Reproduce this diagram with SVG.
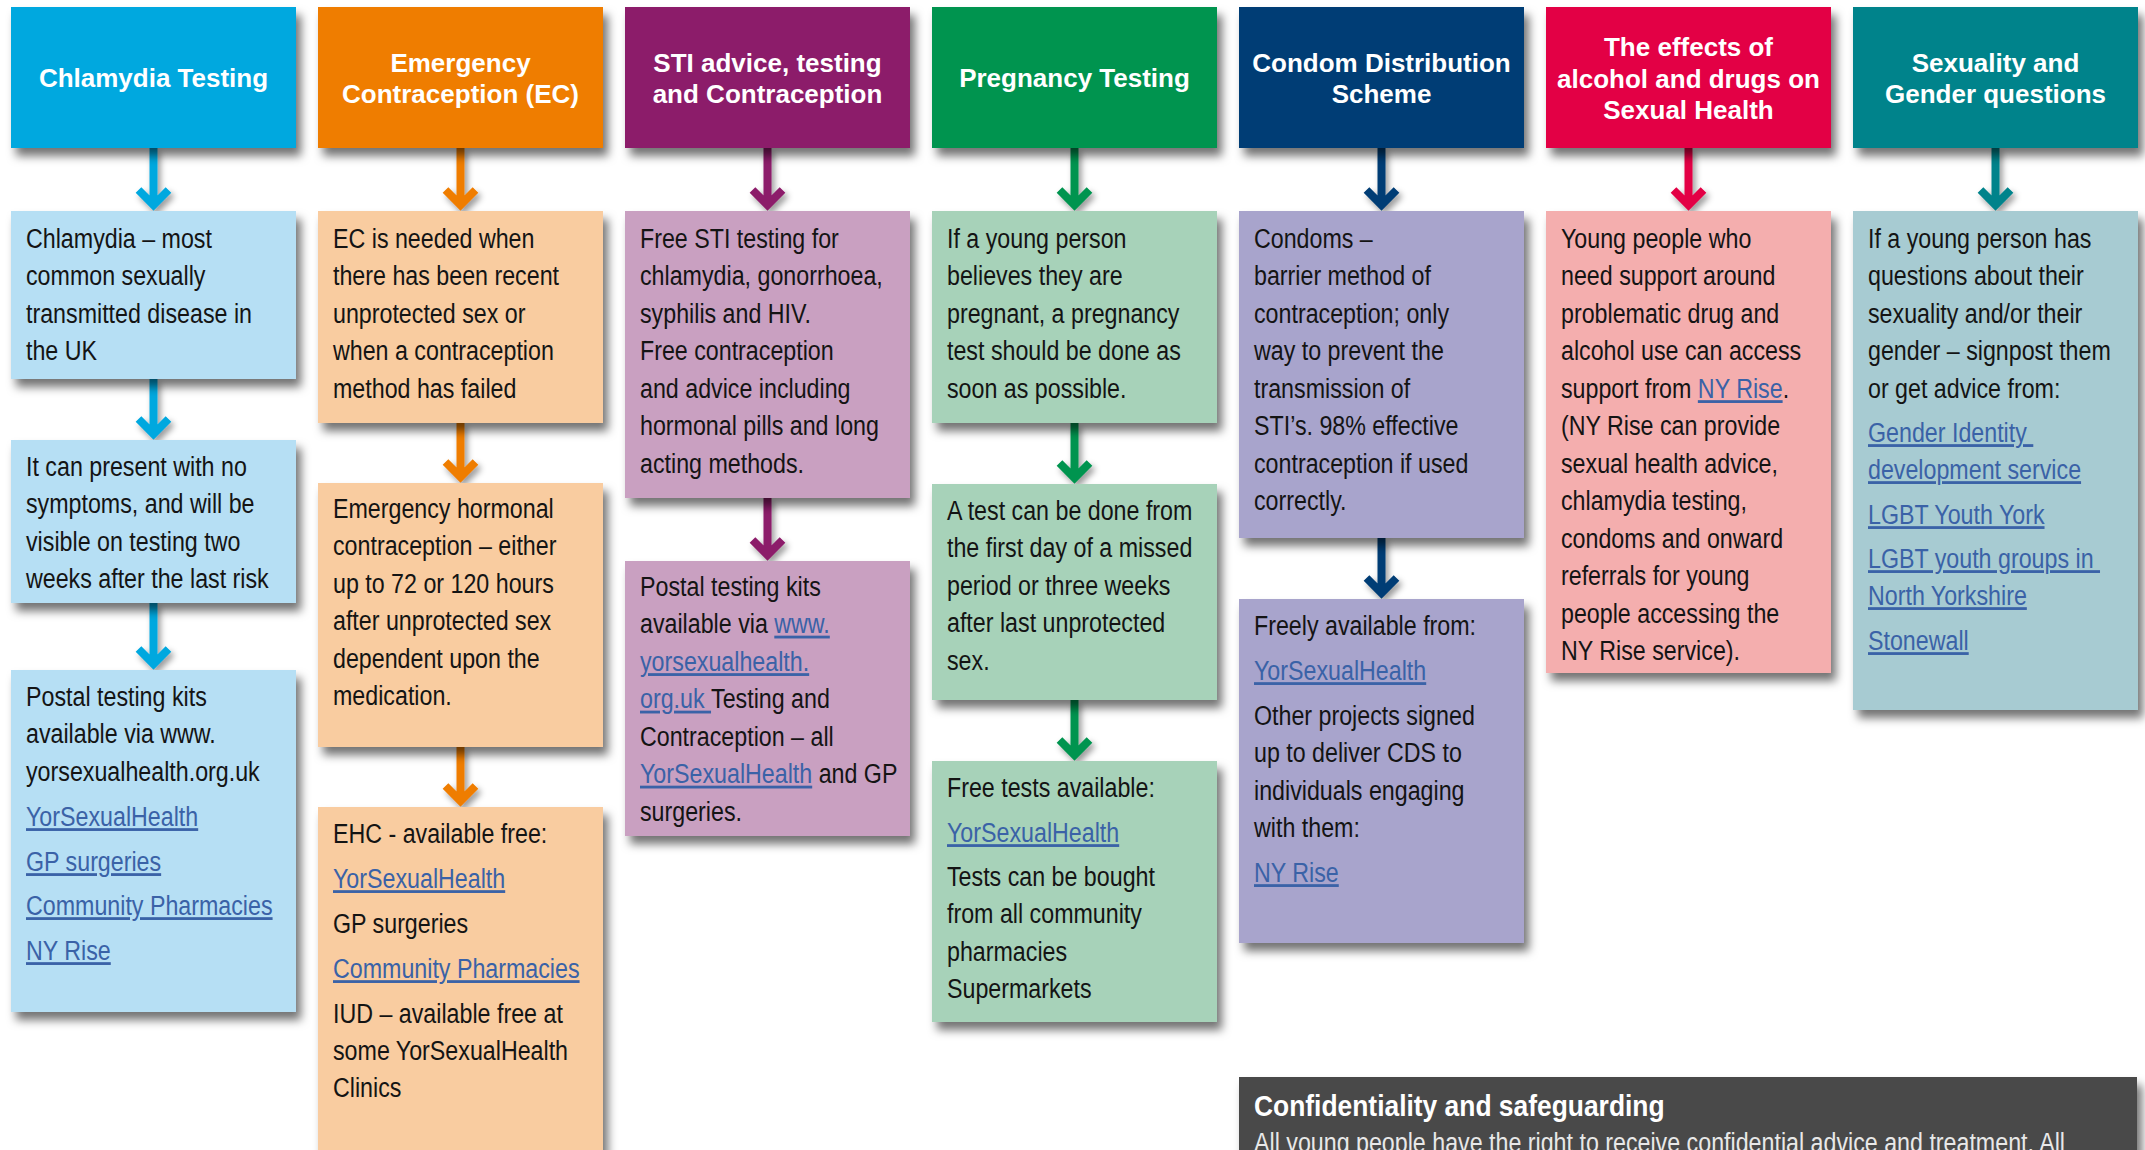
<svg xmlns="http://www.w3.org/2000/svg" width="2145" height="1150" viewBox="0 0 2145 1150">
<style>
.h{font-family:"Liberation Sans",Arial,sans-serif;font-weight:bold;font-size:26px;fill:#fff;text-anchor:middle}
.t{font-family:"Liberation Sans",Arial,sans-serif;font-size:28px;fill:#141414}
.l{fill:#3a62a7;text-decoration:underline}
.ct{font-family:"Liberation Sans",Arial,sans-serif;font-size:30px;font-weight:bold;fill:#fff}
.cb{font-family:"Liberation Sans",Arial,sans-serif;font-size:28px;fill:#e8e8e8}
.box{filter:url(#sh)}
.ar{fill:none;stroke-width:8;stroke-linejoin:miter;stroke-linecap:butt;filter:url(#ash)}
</style>
<defs>
<filter id="sh" x="-10%" y="-10%" width="125%" height="130%">
<feDropShadow dx="5" dy="8" stdDeviation="5" flood-color="#000" flood-opacity="0.55"/>
</filter>
<filter id="ash" x="-50%" y="-20%" width="200%" height="150%">
<feDropShadow dx="3" dy="4" stdDeviation="3" flood-color="#000" flood-opacity="0.4"/>
</filter>
</defs>
<rect width="2145" height="1150" fill="#fff"/>

<g id="connectors">
<path class="ar" stroke="#00a8df" d="M153.5 148V205M138.5 190L153.5 205L168.5 190M153.5 379V434M138.5 419L153.5 434L168.5 419M153.5 603V664M138.5 649L153.5 664L168.5 649"/>
<path class="ar" stroke="#ef7d00" d="M460.5 148V205M445.5 190L460.5 205L475.5 190M460.5 423V477M445.5 462L460.5 477L475.5 462M460.5 747V801M445.5 786L460.5 801L475.5 786"/>
<path class="ar" stroke="#8c1a6a" d="M767.5 148V205M752.5 190L767.5 205L782.5 190M767.5 498V555M752.5 540L767.5 555L782.5 540"/>
<path class="ar" stroke="#009450" d="M1074.5 148V205M1059.5 190L1074.5 205L1089.5 190M1074.5 423V478M1059.5 463L1074.5 478L1089.5 463M1074.5 700V755M1059.5 740L1074.5 755L1089.5 740"/>
<path class="ar" stroke="#013c74" d="M1381.5 148V205M1366.5 190L1381.5 205L1396.5 190M1381.5 538V593M1366.5 578L1381.5 593L1396.5 578"/>
<path class="ar" stroke="#e30045" d="M1688.5 148V205M1673.5 190L1688.5 205L1703.5 190"/>
<path class="ar" stroke="#00838b" d="M1995.5 148V205M1980.5 190L1995.5 205L2010.5 190"/>
</g>

<!-- Column 1 -->
<g id="h1"><rect class="box" x="11" y="7" width="285" height="141" fill="#00a8df"/><text class="h" x="153.5" y="87">Chlamydia Testing</text></g>
<g id="c1a"><rect class="box" x="11" y="211" width="285" height="168" fill="#b6dff4"/>
<g transform="matrix(.83 0 0 1 26 0)">
<text class="t" x="0" y="248">Chlamydia – most</text>
<text class="t" x="0" y="285.5">common sexually</text>
<text class="t" x="0" y="323">transmitted disease in</text>
<text class="t" x="0" y="360.5">the UK</text></g></g>
<g id="c1b"><rect class="box" x="11" y="440" width="285" height="163" fill="#b6dff4"/>
<g transform="matrix(.83 0 0 1 26 0)">
<text class="t" x="0" y="476">It can present with no</text>
<text class="t" x="0" y="513.5">symptoms, and will be</text>
<text class="t" x="0" y="551">visible on testing two</text>
<text class="t" x="0" y="588.5">weeks after the last risk</text></g></g>
<g id="c1c"><rect class="box" x="11" y="670" width="285" height="342" fill="#b6dff4"/>
<g transform="matrix(.83 0 0 1 26 0)">
<text class="t" x="0" y="706">Postal testing kits</text>
<text class="t" x="0" y="743.5">available via www.</text>
<text class="t" x="0" y="781">yorsexualhealth.org.uk</text>
<text class="t l" x="0" y="826">YorSexualHealth</text>
<text class="t l" x="0" y="871">GP surgeries</text>
<text class="t l" x="0" y="915">Community Pharmacies</text>
<text class="t l" x="0" y="960">NY Rise</text></g></g>

<!-- Column 2 -->
<g id="h2"><rect class="box" x="318" y="7" width="285" height="141" fill="#ef7d00"/><text class="h" x="460.5" y="72">Emergency</text><text class="h" x="460.5" y="103">Contraception (EC)</text></g>
<g id="c2a"><rect class="box" x="318" y="211" width="285" height="212" fill="#f9cca0"/>
<g transform="matrix(.83 0 0 1 333 0)">
<text class="t" x="0" y="248">EC is needed when</text>
<text class="t" x="0" y="285.5">there has been recent</text>
<text class="t" x="0" y="323">unprotected sex or</text>
<text class="t" x="0" y="360.5">when a contraception</text>
<text class="t" x="0" y="398">method has failed</text></g></g>
<g id="c2b"><rect class="box" x="318" y="483" width="285" height="264" fill="#f9cca0"/>
<g transform="matrix(.83 0 0 1 333 0)">
<text class="t" x="0" y="518">Emergency hormonal</text>
<text class="t" x="0" y="555.5">contraception – either</text>
<text class="t" x="0" y="593">up to 72 or 120 hours</text>
<text class="t" x="0" y="630.5">after unprotected sex</text>
<text class="t" x="0" y="668">dependent upon the</text>
<text class="t" x="0" y="705.5">medication.</text></g></g>
<g id="c2c"><rect class="box" x="318" y="807" width="285" height="360" fill="#f9cca0"/>
<g transform="matrix(.83 0 0 1 333 0)">
<text class="t" x="0" y="843">EHC - available free:</text>
<text class="t l" x="0" y="888">YorSexualHealth</text>
<text class="t" x="0" y="933">GP surgeries</text>
<text class="t l" x="0" y="978">Community Pharmacies</text>
<text class="t" x="0" y="1023">IUD – available free at</text>
<text class="t" x="0" y="1060">some YorSexualHealth</text>
<text class="t" x="0" y="1097">Clinics</text></g></g>

<!-- Column 3 -->
<g id="h3"><rect class="box" x="625" y="7" width="285" height="141" fill="#8c1a6a"/><text class="h" x="767.5" y="72">STI advice, testing</text><text class="h" x="767.5" y="103">and Contraception</text></g>
<g id="c3a"><rect class="box" x="625" y="211" width="285" height="287" fill="#c9a0c1"/>
<g transform="matrix(.83 0 0 1 640 0)">
<text class="t" x="0" y="248">Free STI testing for</text>
<text class="t" x="0" y="285.5">chlamydia, gonorrhoea,</text>
<text class="t" x="0" y="323">syphilis and HIV.</text>
<text class="t" x="0" y="360.5">Free contraception</text>
<text class="t" x="0" y="398">and advice including</text>
<text class="t" x="0" y="435.5">hormonal pills and long</text>
<text class="t" x="0" y="473">acting methods.</text></g></g>
<g id="c3b"><rect class="box" x="625" y="561" width="285" height="275" fill="#c9a0c1"/>
<g transform="matrix(.83 0 0 1 640 0)">
<text class="t" x="0" y="596">Postal testing kits</text>
<text class="t" x="0" y="633.5">available via <tspan class="l">www.</tspan></text>
<text class="t l" x="0" y="671">yorsexualhealth.</text>
<text class="t" x="0" y="708.5"><tspan class="l">org.uk </tspan>Testing and</text>
<text class="t" x="0" y="746">Contraception – all</text>
<text class="t" x="0" y="783.5"><tspan class="l">YorSexualHealth</tspan> and GP</text>
<text class="t" x="0" y="821">surgeries.</text></g></g>

<!-- Column 4 -->
<g id="h4"><rect class="box" x="932" y="7" width="285" height="141" fill="#009450"/><text class="h" x="1074.5" y="87">Pregnancy Testing</text></g>
<g id="c4a"><rect class="box" x="932" y="211" width="285" height="212" fill="#a7d2b9"/>
<g transform="matrix(.83 0 0 1 947 0)">
<text class="t" x="0" y="248">If a young person</text>
<text class="t" x="0" y="285.5">believes they are</text>
<text class="t" x="0" y="323">pregnant, a pregnancy</text>
<text class="t" x="0" y="360.5">test should be done as</text>
<text class="t" x="0" y="398">soon as possible.</text></g></g>
<g id="c4b"><rect class="box" x="932" y="484" width="285" height="216" fill="#a7d2b9"/>
<g transform="matrix(.83 0 0 1 947 0)">
<text class="t" x="0" y="520">A test can be done from</text>
<text class="t" x="0" y="557.5">the first day of a missed</text>
<text class="t" x="0" y="595">period or three weeks</text>
<text class="t" x="0" y="632.5">after last unprotected</text>
<text class="t" x="0" y="670">sex.</text></g></g>
<g id="c4c"><rect class="box" x="932" y="761" width="285" height="261" fill="#a7d2b9"/>
<g transform="matrix(.83 0 0 1 947 0)">
<text class="t" x="0" y="797">Free tests available:</text>
<text class="t l" x="0" y="842">YorSexualHealth</text>
<text class="t" x="0" y="886">Tests can be bought</text>
<text class="t" x="0" y="923.5">from all community</text>
<text class="t" x="0" y="961">pharmacies</text>
<text class="t" x="0" y="998.5">Supermarkets</text></g></g>

<!-- Column 5 -->
<g id="h5"><rect class="box" x="1239" y="7" width="285" height="141" fill="#013c74"/><text class="h" x="1381.5" y="72">Condom Distribution</text><text class="h" x="1381.5" y="103">Scheme</text></g>
<g id="c5a"><rect class="box" x="1239" y="211" width="285" height="327" fill="#a8a4cc"/>
<g transform="matrix(.83 0 0 1 1254 0)">
<text class="t" x="0" y="248">Condoms –</text>
<text class="t" x="0" y="285.5">barrier method of</text>
<text class="t" x="0" y="323">contraception; only</text>
<text class="t" x="0" y="360.5">way to prevent the</text>
<text class="t" x="0" y="398">transmission of</text>
<text class="t" x="0" y="435.5">STI’s. 98% effective</text>
<text class="t" x="0" y="473">contraception if used</text>
<text class="t" x="0" y="510.5">correctly.</text></g></g>
<g id="c5b"><rect class="box" x="1239" y="599" width="285" height="344" fill="#a8a4cc"/>
<g transform="matrix(.83 0 0 1 1254 0)">
<text class="t" x="0" y="635">Freely available from:</text>
<text class="t l" x="0" y="680">YorSexualHealth</text>
<text class="t" x="0" y="725">Other projects signed</text>
<text class="t" x="0" y="762.5">up to deliver CDS to</text>
<text class="t" x="0" y="800">individuals engaging</text>
<text class="t" x="0" y="837.5">with them:</text>
<text class="t l" x="0" y="882">NY Rise</text></g></g>

<!-- Column 6 -->
<g id="h6"><rect class="box" x="1546" y="7" width="285" height="141" fill="#e30045"/><text class="h" x="1688.5" y="56">The effects of</text><text class="h" x="1688.5" y="87.5">alcohol and drugs on</text><text class="h" x="1688.5" y="119">Sexual Health</text></g>
<g id="c6a"><rect class="box" x="1546" y="211" width="285" height="462" fill="#f4aeae"/>
<g transform="matrix(.83 0 0 1 1561 0)">
<text class="t" x="0" y="248">Young people who</text>
<text class="t" x="0" y="285.5">need support around</text>
<text class="t" x="0" y="323">problematic drug and</text>
<text class="t" x="0" y="360.5">alcohol use can access</text>
<text class="t" x="0" y="398">support from <tspan class="l">NY Rise</tspan>.</text>
<text class="t" x="0" y="435.5">(NY Rise can provide</text>
<text class="t" x="0" y="473">sexual health advice,</text>
<text class="t" x="0" y="510.5">chlamydia testing,</text>
<text class="t" x="0" y="548">condoms and onward</text>
<text class="t" x="0" y="585.5">referrals for young</text>
<text class="t" x="0" y="623">people accessing the</text>
<text class="t" x="0" y="660.5">NY Rise service).</text></g></g>

<!-- Column 7 -->
<g id="h7"><rect class="box" x="1853" y="7" width="285" height="141" fill="#00838b"/><text class="h" x="1995.5" y="72">Sexuality and</text><text class="h" x="1995.5" y="103">Gender questions</text></g>
<g id="c7a"><rect class="box" x="1853" y="211" width="285" height="499" fill="#a7cbd2"/>
<g transform="matrix(.83 0 0 1 1868 0)">
<text class="t" x="0" y="248">If a young person has</text>
<text class="t" x="0" y="285.5">questions about their</text>
<text class="t" x="0" y="323">sexuality and/or their</text>
<text class="t" x="0" y="360.5">gender – signpost them</text>
<text class="t" x="0" y="398">or get advice from:</text>
<text class="t l" x="0" y="442" xml:space="preserve">Gender Identity </text>
<text class="t l" x="0" y="479">development service</text>
<text class="t l" x="0" y="524">LGBT Youth York</text>
<text class="t l" x="0" y="568" xml:space="preserve">LGBT youth groups in </text>
<text class="t l" x="0" y="605">North Yorkshire</text>
<text class="t l" x="0" y="650">Stonewall</text></g></g>

<!-- Confidentiality -->
<g id="conf"><rect class="box" x="1239" y="1077" width="898" height="100" fill="#4a4a48"/>
<g transform="matrix(.88 0 0 1 1254 0)">
<text class="ct" x="0" y="1116">Confidentiality and safeguarding</text></g>
<g transform="matrix(.83 0 0 1 1254 0)">
<text class="cb" x="0" y="1152">All young people have the right to receive confidential advice and treatment. All</text></g></g>
</svg>
